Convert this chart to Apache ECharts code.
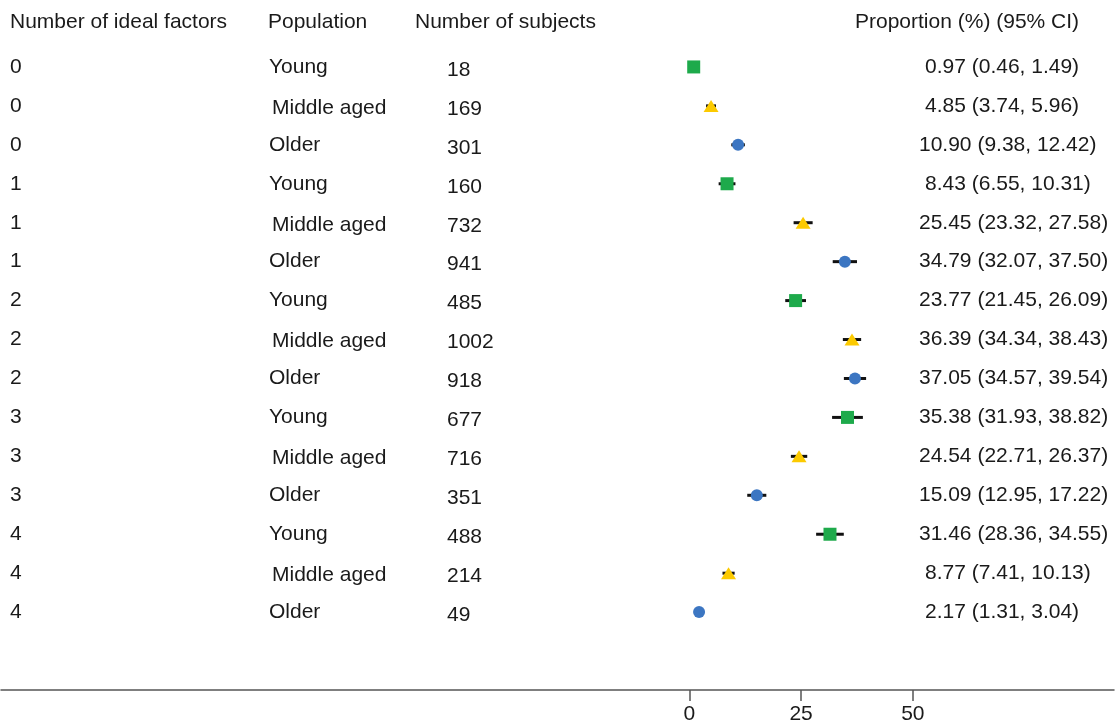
<!DOCTYPE html>
<html>
<head>
<meta charset="utf-8">
<script src="https://cdn.jsdelivr.net/npm/echarts@6/dist/echarts.min.js"></script>
<style>
  html, body { margin: 0; padding: 0; background: #fff; }
  #chart { width: 1117px; height: 725px; }
</style>
</head>
<body>
<div id="chart"></div>
<script>
const factors = ['0', '0', '0', '1', '1', '1', '2', '2', '2', '3', '3', '3', '4', '4', '4'];
const population = ['Young', 'Middle aged', 'Older', 'Young', 'Middle aged', 'Older', 'Young', 'Middle aged', 'Older',
  'Young', 'Middle aged', 'Older', 'Young', 'Middle aged', 'Older'];
const subjects = [18, 169, 301, 160, 732, 941, 485, 1002, 918, 677, 716, 351, 488, 214, 49];
const estimate = [0.97, 4.85, 10.90, 8.43, 25.45, 34.79, 23.77, 36.39, 37.05, 35.38, 24.54, 15.09, 31.46, 8.77, 2.17];
const lower = [0.46, 3.74, 9.38, 6.55, 23.32, 32.07, 21.45, 34.34, 34.57, 31.93, 22.71, 12.95, 28.36, 7.41, 1.31];
const upper = [1.49, 5.96, 12.42, 10.31, 27.58, 37.50, 26.09, 38.43, 39.54, 38.82, 26.37, 17.22, 34.55, 10.13, 3.04];
const headers = ['Number of ideal factors', 'Population', 'Number of subjects', 'Proportion (%) (95% CI)'];
const xTicks = [0, 25, 50];

const groups = [
  { name: 'Young', symbol: 'rect', size: 13, color: '#1eaa4b' },
  { name: 'Middle aged', symbol: 'triangle', size: [15, 12], color: '#fcca00' },
  { name: 'Older', symbol: 'circle', size: 12, color: '#3c76c2' }
];

const fontFamily = '"Liberation Sans", Arial, sans-serif';
const fontSize = 21;
const textColor = '#1a1a1a';
const fmt = v => v.toFixed(2);

const rows = estimate.map((v, i) => [v, i, lower[i], upper[i]]);

const chart = echarts.init(document.getElementById('chart'));

const series = [
  // confidence interval bars
  {
    type: 'custom',
    data: rows,
    z: 2,
    renderItem: (params, api) => {
      const a = api.coord([api.value(2), api.value(1)]);
      const b = api.coord([api.value(3), api.value(1)]);
      return {
        type: 'line',
        shape: { x1: a[0], y1: a[1], x2: b[0], y2: b[1] },
        style: { stroke: '#111', lineWidth: 3 }
      };
    }
  },
  // table text columns
  {
    type: 'custom',
    data: rows,
    z: 3,
    silent: true,
    renderItem: (params, api) => {
      const i = params.dataIndex;
      const y = api.coord([0, i])[1];
      const base = { fontSize: fontSize, fontFamily: fontFamily, fill: textColor, textVerticalAlign: 'middle' };
      const mid = population[i] === 'Middle aged';
      return {
        type: 'group',
        children: [
          { type: 'text', style: Object.assign({ x: 10, y: y, text: factors[i] }, base) },
          { type: 'text', style: Object.assign({ x: mid ? 272 : 269, y: mid ? y + 2 : y, text: population[i] }, base) },
          { type: 'text', style: Object.assign({ x: 447, y: y + 3, text: String(subjects[i]) }, base) },
          { type: 'text', style: Object.assign({ x: estimate[i] < 10 ? 925 : 919, y: y,
            text: fmt(estimate[i]) + ' (' + fmt(lower[i]) + ', ' + fmt(upper[i]) + ')' }, base) }
        ]
      };
    }
  }
];

groups.forEach(g => {
  series.push({
    type: 'scatter',
    name: g.name,
    symbol: g.symbol,
    symbolSize: g.size,
    z: 4,
    itemStyle: { color: g.color, opacity: 1 },
    data: rows.filter(r => population[r[1]] === g.name).map(r => [r[0], r[1]])
  });
});

const headerX = [10, 268, 415, 855];

chart.setOption({
  animation: false,
  grid: { left: 1, right: 3, top: 28, bottom: 34 },
  xAxis: {
    type: 'value',
    min: -154,
    max: 95,
    splitLine: { show: false },
    axisLine: { show: true, onZero: false, lineStyle: { color: '#555', width: 1.5 } },
    axisTick: { show: true, length: 11, customValues: xTicks, lineStyle: { color: '#555', width: 1.5 } },
    axisLabel: { customValues: xTicks, fontSize: fontSize, margin: 14, color: textColor, fontFamily: fontFamily }
  },
  yAxis: {
    type: 'value',
    inverse: true,
    min: -1,
    max: 16,
    show: false
  },
  graphic: headers.map((h, k) => ({
    type: 'text', left: headerX[k], top: 12,
    style: { text: h, fontSize: fontSize, fontFamily: fontFamily, fill: textColor }
  })),
  series: series
});
</script>
</body>
</html>
